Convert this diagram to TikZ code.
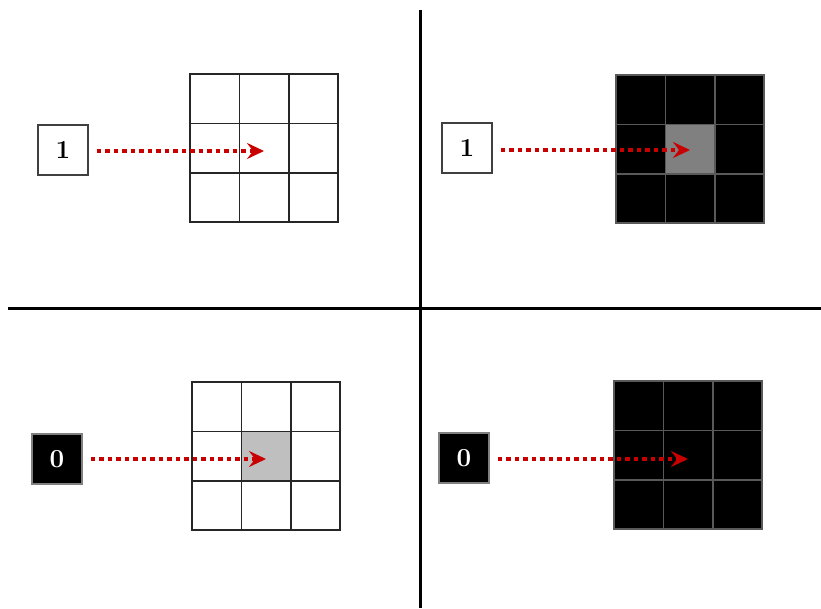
\documentclass[tikz,border=0pt]{standalone}
\usetikzlibrary{arrows.meta}
\definecolor{arrowred}{RGB}{200,0,0}
\tikzset{
  bitbox/.style={draw=black!75, line width=1.3pt, minimum size=50pt, inner sep=0pt,
    font=\fontsize{26}{28}\selectfont\bfseries},
  offbox/.style={bitbox, fill=black, draw=black!50, text=white},
  whitecell/.style={draw=black!85, line width=1.6pt, fill=white},
  darkcell/.style={draw=black!65, line width=1.6pt, fill=black},
  divider/.style={draw=black, line width=3pt},
  flow/.style={draw=arrowred, line width=3.5pt, dash pattern=on 4.5pt off 4pt,
    -{Stealth[length=17pt,width=16pt,inset=6pt]}, shorten <=8pt},
}
\begin{document}
\begin{tikzpicture}[x=1pt,y=-1pt]
\useasboundingbox (0,0) rectangle (821,608);
% dividers
\draw[divider] (420,10) -- (420,608);
\draw[divider] (8,308) -- (821,308);
% top left
\foreach \i in {0,1,2}
  \foreach \j in {0,1,2}
    \draw[whitecell] (190+49.4*\i,74+49.4*\j) rectangle ++(49.4,49.4);
\coordinate (tlmid) at (264,151);
\node[bitbox] (tlbit) at (63,150) {1};
\path[flow] (tlbit.east |- tlmid) -- (tlmid);
% top right
\foreach \i in {0,1,2}
  \foreach \j in {0,1,2}
    \draw[darkcell] (616+49.4*\i,75+49.4*\j) rectangle ++(49.4,49.4);
\draw[darkcell, fill=black!50] (665.4,124.4) rectangle ++(49.4,49.4);
\coordinate (trmid) at (690,150);
\node[bitbox] (trbit) at (467,148) {1};
\path[flow] (trbit.east |- trmid) -- (trmid);
% bottom left
\foreach \i in {0,1,2}
  \foreach \j in {0,1,2}
    \draw[whitecell] (192+49.4*\i,382+49.4*\j) rectangle ++(49.4,49.4);
\draw[whitecell, fill=black!25] (241.4,431.4) rectangle ++(49.4,49.4);
\coordinate (blmid) at (266,459);
\node[offbox] (blbit) at (57,459) {0};
\path[flow] (blbit.east |- blmid) -- (blmid);
% bottom right
\foreach \i in {0,1,2}
  \foreach \j in {0,1,2}
    \draw[darkcell] (614+49.4*\i,381+49.4*\j) rectangle ++(49.4,49.4);
\coordinate (brmid) at (688,459);
\node[offbox] (brbit) at (464,458) {0};
\path[flow] (brbit.east |- brmid) -- (brmid);
\end{tikzpicture}
\end{document}
